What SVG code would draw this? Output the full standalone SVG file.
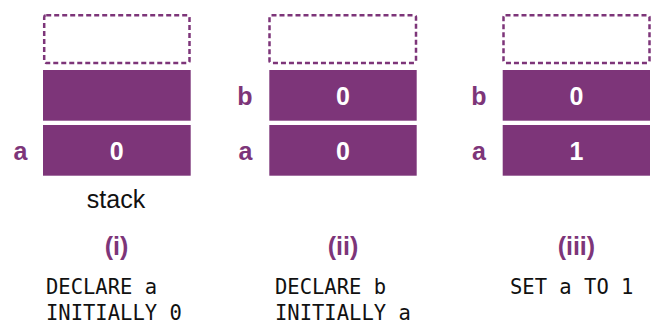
<svg xmlns="http://www.w3.org/2000/svg" width="656" height="325" viewBox="0 0 656 325">
<style>
.slot{fill:none;stroke:#7d3579;stroke-width:2.5;stroke-dasharray:5 3}
.cell{fill:#7d3579}
.val{font-family:"Liberation Sans",Arial,sans-serif;font-weight:bold;font-size:25px;fill:#ffffff;text-anchor:middle}
.lbl{font-family:"Liberation Sans",Arial,sans-serif;font-weight:bold;font-size:25px;fill:#7d3579;text-anchor:middle}
.num{font-family:"Liberation Sans",Arial,sans-serif;font-weight:bold;font-size:25px;fill:#7d3579;text-anchor:middle}
.code{font-family:"DejaVu Sans Mono","Liberation Mono",monospace;font-size:20.5px;fill:#111111}
.cap{font-family:"Liberation Sans",Arial,sans-serif;font-size:25px;fill:#111111;text-anchor:middle}
</style>
<rect width="656" height="325" fill="#ffffff"/>
<g id="panel-i">
<rect class="slot" x="44.2" y="15.2" width="145.3" height="47.8" rx="2"/>
<rect class="cell" x="43" y="70" width="147.7" height="50.7"/>
<rect class="cell" x="43" y="125" width="147.7" height="50.7"/>
<text class="val" x="116.8" y="159.5">0</text>
<text class="lbl" x="20.5" y="159.5">a</text>
<text class="cap" x="116" y="208">stack</text>
<text class="num" x="116.5" y="255">(i)</text>
<text class="code" x="46" y="294">DECLARE a</text>
<text class="code" x="46" y="320">INITIALLY 0</text>
</g>
<g id="panel-ii">
<rect class="slot" x="269.5" y="15.2" width="146.5" height="47.8" rx="2"/>
<rect class="cell" x="269.3" y="70" width="147.4" height="50.7"/>
<rect class="cell" x="269.3" y="125" width="147.4" height="50.7"/>
<text class="val" x="343" y="104.5">0</text>
<text class="val" x="343" y="159.5">0</text>
<text class="lbl" x="245" y="104.5">b</text>
<text class="lbl" x="245.5" y="159.5">a</text>
<text class="num" x="343" y="255">(ii)</text>
<text class="code" x="275" y="294">DECLARE b</text>
<text class="code" x="275" y="320">INITIALLY a</text>
</g>
<g id="panel-iii">
<rect class="slot" x="503.5" y="15.2" width="146" height="47.8" rx="2"/>
<rect class="cell" x="502.7" y="70" width="147.3" height="50.7"/>
<rect class="cell" x="502.7" y="125" width="147.3" height="50.7"/>
<text class="val" x="576.4" y="104.5">0</text>
<text class="val" x="576.4" y="159.5">1</text>
<text class="lbl" x="479" y="104.5">b</text>
<text class="lbl" x="479" y="159.5">a</text>
<text class="num" x="576.4" y="255">(iii)</text>
<text class="code" x="510" y="294">SET a TO 1</text>
</g>
<g id="connectors"></g>
</svg>
